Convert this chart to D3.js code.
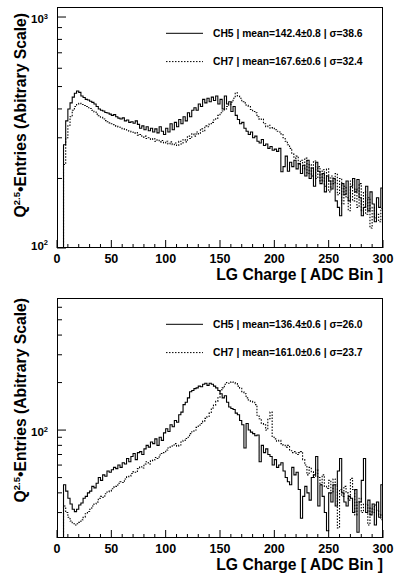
<!DOCTYPE html>
<html>
<head>
<meta charset="utf-8">
<script src="https://cdn.jsdelivr.net/npm/d3@7"></script>
<style>
  body { margin: 0; background: #fff; }
  text { font-family: "Liberation Sans", Arial, sans-serif; font-weight: bold; fill: #000; }
</style>
</head>
<body>
<svg id="chart" width="394" height="577"></svg>
<script>
// bins are 2 ADC wide, starting at 0
const binWidth = 2;
const xTickValues = [0, 50, 100, 150, 200, 250, 300];

const topCH5 = [
  0,0,0,280,355,400,425,450,468,478,
  472,455,448,440,437,432,427,420,410,400,
  395,392,386,384,380,375,378,370,365,362,
  366,355,358,350,352,347,355,343,330,338,
  325,335,322,330,318,328,315,335,320,310,
  330,318,345,325,350,335,360,345,370,355,
  385,370,395,405,395,420,410,440,425,445,
  430,450,435,455,420,440,400,455,420,430,
  390,410,375,360,345,350,330,320,310,318,
  300,305,290,285,295,278,282,270,275,265,
  268,262,270,214,225,250,215,235,225,240,
  220,232,210,228,205,240,200,222,185,235,
  215,190,210,175,205,195,180,200,160,150,
  138,190,170,195,160,185,200,175,198,165,
  138,150,185,145,175,155,130,165,150,182
];
const topCH7 = [
  0,0,0,230,300,340,370,395,410,420,
  423,418,414,410,405,402,395,388,380,374,
  368,362,356,352,348,345,342,336,334,330,
  328,326,322,320,318,314,316,308,310,302,
  305,298,300,295,298,290,294,288,292,285,
  290,282,288,280,285,278,290,282,295,288,
  305,298,312,305,318,312,328,320,338,335,
  345,350,358,365,375,385,392,400,410,418,
  428,445,470,455,445,430,425,415,410,398,
  390,385,370,360,362,345,335,340,330,332,
  325,320,318,312,300,290,280,270,255,245,
  250,230,240,220,245,210,230,205,238,200,
  225,195,218,185,220,175,205,190,210,170,
  200,155,185,165,145,195,160,180,150,190,
  145,175,140,165,122,150,135,140,130,148
];
const botCH5 = [
  0,0,0,45,41,37,34,31.5,30.4,31.5,
  33.5,34.5,37,38,40,41,44,43,46,50,
  48,52,51,55,54,56,58,57,60,58,
  62,61,66,63,68,71,65,72,73,70,
  76,80,78,84,82,88,80,90,86,96,
  102,98,108,105,115,112,125,130,145,150,
  160,175,178,183,185,190,188,195,198,192,
  198,195,190,185,178,170,160,165,150,140,
  137,135,128,125,115,108,77,110,100,97,
  95,92,93,63,80,72,76,70,68,60,
  65,58,60,62,55,50,47,45,58,52,
  54,42,27.6,38,44,40,36,50,52,68,
  33,45,38,30,23,40,35,45,33,55,
  66,40,35,33,38,37,30,42,22.5,35,
  48,66,30,36,29,34,25,35,28,45
];
const botCH7 = [
  0,0,0,33,30,28,26.5,25.5,25,25.5,
  26,27,28,29.5,30.5,31.5,33,34,35,37,
  38,37.5,39.5,40.5,41,42.5,43.5,44,46,47,
  46.5,49,50.5,51,53,54.5,54,57,58.6,57.5,
  61,63,61,64,64.6,67,66,69.5,71,72,
  74.7,77,78,80.4,82,79,80.4,84,86,88.5,
  90,95,97.6,100,104,107.6,110,114,118.6,122,
  128,138,144,152,160,180,185,195,200,198,
  202,200,197,190,184,175,170,160,155,152,
  150,145,124,118,110,108,100,118,130,90,
  88,85,86,82,80,78,80,74,72,73,
  70,72,73,65,60,52,58,54.5,50,56,
  50,45,52,44,42.7,48,40,49,45,24,
  42,38,44,40,36,49.4,42,29,35,37,
  30,34,33.5,25,32,30,33.5,31,29,27
];

const topLegend = ["CH5 | mean=142.4\u00b10.8 | \u03c3=38.6", "CH7 | mean=167.6\u00b10.6 | \u03c3=32.4"];
const botLegend = ["CH5 | mean=136.4\u00b10.6 | \u03c3=26.0", "CH7 | mean=161.0\u00b10.6 | \u03c3=23.7"];
const xTitle = "LG Charge [ ADC Bin ]";
const yTitleMain = "\u2022Entries (Abitrary Scale)";

const svg = d3.select('#chart');
const left = 57, right = 383;
const x = d3.scaleLinear().domain([0, 300]).range([left, right]);

function drawPanel(id, top, bottom, yDomain, ch5, ch7, legend, titleEnd) {
  const g = svg.append('g');
  const y = d3.scaleLog().domain(yDomain).range([bottom, top]);

  g.append('clipPath').attr('id', 'clip' + id)
    .append('rect').attr('x', left).attr('y', top).attr('width', right - left).attr('height', bottom - top);

  const line = d3.line()
    .x(d => x(d[0]))
    .y(d => y(Math.max(d[1], yDomain[0])))
    .curve(d3.curveStepAfter);
  const pts = vals => {
    const p = vals.map((v, i) => [i * binWidth, v]);
    p.push([vals.length * binWidth, vals[vals.length - 1]]);
    return p;
  };

  const plot = g.append('g').attr('clip-path', `url(#clip${id})`);
  plot.append('path').attr('d', line(pts(ch5)))
    .attr('fill', 'none').attr('stroke', '#000').attr('stroke-width', 1.1);
  plot.append('path').attr('d', line(pts(ch7)))
    .attr('fill', 'none').attr('stroke', '#000').attr('stroke-width', 1.1)
    .attr('stroke-dasharray', '1.5,1.5');

  // frame
  g.append('rect').attr('x', left + 0.5).attr('y', top + 0.5)
    .attr('width', right - left - 1).attr('height', bottom - top - 1)
    .attr('fill', 'none').attr('stroke', '#000').attr('stroke-width', 1);

  // x ticks
  const xt = g.append('g');
  d3.range(0, 301, 10).forEach(v => {
    const major = v % 50 === 0;
    xt.append('line').attr('x1', x(v)).attr('x2', x(v))
      .attr('y1', bottom).attr('y2', bottom - (major ? 8 : 4))
      .attr('stroke', '#000').attr('stroke-width', 1);
  });
  xTickValues.forEach(v => {
    xt.append('text').attr('x', x(v)).attr('y', bottom + 14.5)
      .attr('text-anchor', 'middle').attr('font-size', 12.5).text(v);
  });
  xt.append('text').attr('x', right).attr('y', bottom + 32)
    .attr('text-anchor', 'end').attr('font-size', 15.7).text(xTitle);

  // y ticks
  const yt = g.append('g');
  y.ticks().forEach(v => {
    const e = Math.log10(v);
    const major = Math.abs(e - Math.round(e)) < 1e-9;
    yt.append('line').attr('x1', left).attr('x2', left + (major ? 9 : 5))
      .attr('y1', y(v)).attr('y2', y(v))
      .attr('stroke', '#000').attr('stroke-width', 1);
    if (major) {
      const t = yt.append('text').attr('x', left - 9)
        .attr('y', Math.min(y(v) + 6, bottom + 1.5))
        .attr('text-anchor', 'end').attr('font-size', 11.5);
      t.append('tspan').text('10');
      t.append('tspan').attr('dy', -4.5).attr('font-size', 7.5).text(Math.round(e));
    }
  });

  // y title
  const yTitle = g.append('text')
    .attr('transform', `translate(25.5,${titleEnd}) rotate(-90)`)
    .attr('text-anchor', 'end').attr('font-size', 15.7);
  yTitle.append('tspan').text('Q');
  yTitle.append('tspan').attr('dy', -6).attr('font-size', 9.5).text('2.5');
  yTitle.append('tspan').attr('dy', 6).text(yTitleMain);

  // legend
  const ly = [top + 26.3, top + 54.6];
  legend.forEach((txt, i) => {
    g.append('line').attr('x1', 166).attr('x2', 203).attr('y1', ly[i]).attr('y2', ly[i])
      .attr('stroke', '#000').attr('stroke-width', 1)
      .attr('stroke-dasharray', i === 1 ? '1.5,1.5' : null);
    g.append('text').attr('x', 213).attr('y', ly[i] + 3.6)
      .attr('font-size', 10.3).text(txt);
  });
}

drawPanel('a', 7, 248, [100, 1105], topCH5, topCH7, topLegend, 13);
drawPanel('b', 298, 538, [20.7, 687], botCH5, botCH7, botLegend, 298);
</script>
</body>
</html>
